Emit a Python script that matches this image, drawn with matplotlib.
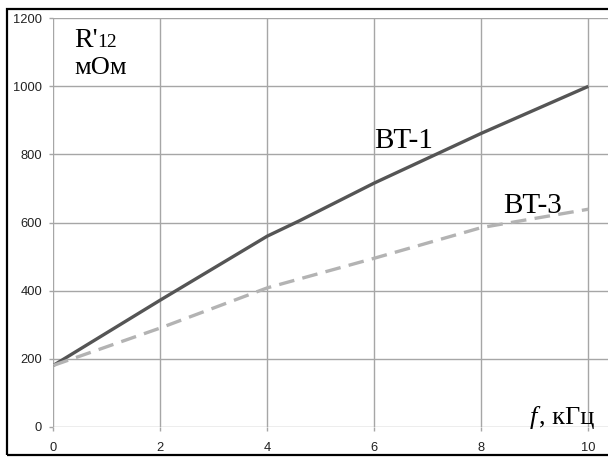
import matplotlib
matplotlib.use("Agg")
import matplotlib.pyplot as plt
from matplotlib.patches import Rectangle

# data
f_bt1 = [0, 2, 4, 4.6, 6, 8, 10]
r_bt1 = [180, 372, 560, 605, 716, 862, 1000]
f_bt3 = [0, 2, 4, 6, 8, 10]
r_bt3 = [180, 290, 408, 495, 585, 639]
x_ticks = [0, 2, 4, 6, 8, 10]
y_ticks = [0, 200, 400, 600, 800, 1000, 1200]

W, H = 608, 457
fig = plt.figure(figsize=(W / 100, H / 100), dpi=100)
left, right = 53.3, 608
top, bottom = 18.3, 426.7
ax = fig.add_axes([left / W, 1 - bottom / H, (right - left) / W, (bottom - top) / H])

ax.plot(f_bt1, r_bt1, color="#555555", lw=2.4, solid_capstyle="butt", zorder=3)
ax.plot(f_bt3, r_bt3, color="#b3b3b3", lw=2.4, dashes=(4.7, 2.5), zorder=3)

xmax = (right - left) / 53.5
ax.set_xlim(0, xmax)
ax.set_ylim(0, 1200)
ax.set_xticks(x_ticks)
ax.set_yticks(y_ticks)
ax.set_xticklabels([str(v) for v in x_ticks])
ax.set_yticklabels([str(v) for v in y_ticks])
ax.grid(True, color="#a6a6a6", lw=1.0)
ax.set_axisbelow(True)
for s in ax.spines.values():
    s.set_visible(False)
ax.tick_params(axis="both", length=3, width=1, color="#a6a6a6",
               labelsize=9.3, labelcolor="#222222")
ax.tick_params(axis="y", pad=5)
ax.tick_params(axis="x", pad=8)
for lab in ax.get_xticklabels() + ax.get_yticklabels():
    lab.set_fontfamily("Liberation Sans")

serif = "Liberation Serif"
def px(x, y):
    return x / W, 1 - y / H

fig.text(*px(74, 47), "R'", fontsize=20, family=serif, ha="left", va="baseline")
fig.text(*px(97, 47), "12", fontsize=14, family=serif, ha="left", va="baseline")
fig.text(*px(74, 74), "мОм", fontsize=19, family=serif, ha="left", va="baseline")
fig.text(*px(374, 148), "BT-1", fontsize=21, family=serif, ha="left", va="baseline")
fig.text(*px(503, 213), "BT-3", fontsize=21, family=serif, ha="left", va="baseline")
fig.text(*px(530, 424), "f", fontsize=19, family=serif, style="italic",
         ha="left", va="baseline")
fig.text(*px(539, 424), ", кГц", fontsize=19, family=serif, ha="left", va="baseline")

fig.patches.append(Rectangle((7 / W, 1 - 455 / H), 1.0, (455 - 9) / H,
                             transform=fig.transFigure, fill=False,
                             edgecolor="black", lw=1.6, clip_on=False))

fig.savefig("out.png", dpi=100)
